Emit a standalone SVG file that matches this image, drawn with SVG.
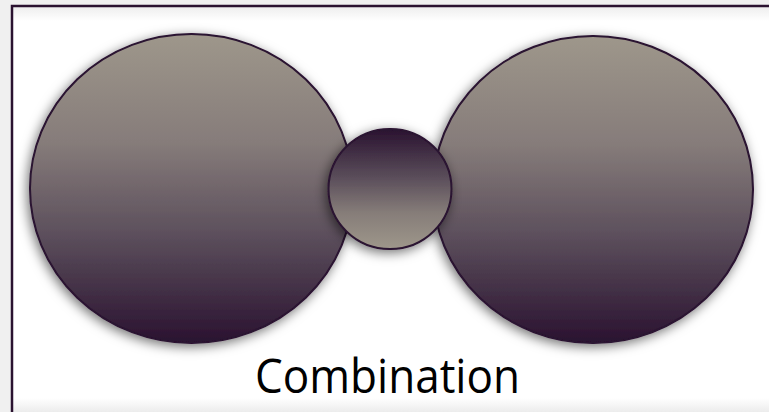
<svg xmlns="http://www.w3.org/2000/svg" width="769" height="412" viewBox="0 0 769 412">
<defs>
<linearGradient id="gBig" x1="0" y1="0" x2="0" y2="1">
<stop offset="0" stop-color="#9e978b"/>
<stop offset="0.35" stop-color="#867c7a"/>
<stop offset="0.65" stop-color="#5c4f5c"/>
<stop offset="1" stop-color="#2a1230"/>
</linearGradient>
<linearGradient id="gSmall" x1="0" y1="0" x2="0" y2="1">
<stop offset="0" stop-color="#2a1230"/>
<stop offset="0.4" stop-color="#5a4d5a"/>
<stop offset="0.7" stop-color="#867d79"/>
<stop offset="1" stop-color="#9e978b"/>
</linearGradient>
<linearGradient id="gBottom" x1="0" y1="0" x2="0" y2="1">
<stop offset="0" stop-color="#ffffff"/>
<stop offset="1" stop-color="#ececec"/>
</linearGradient>
<linearGradient id="gTop" x1="0" y1="0" x2="0" y2="1">
<stop offset="0" stop-color="#eeeeee"/>
<stop offset="1" stop-color="#ffffff"/>
</linearGradient>
<filter id="shadow" x="-20%" y="-20%" width="140%" height="140%">
<feDropShadow dx="-2" dy="3" stdDeviation="6" flood-color="#000000" flood-opacity="0.55"/>
</filter>
</defs>
<style>
.node { stroke: #2a1230; stroke-width: 2; }
.big { fill: url(#gBig); }
.small { fill: url(#gSmall); }
.label { font-family: "Open Sans", "Liberation Sans", sans-serif; font-size: 47px; fill: #000000; font-variant-ligatures: none; }
</style>
<rect x="0" y="0" width="769" height="412" fill="#f0f0f0"/>
<rect x="12" y="6" width="770" height="420" fill="#ffffff"/>
<rect x="13" y="7" width="770" height="14" fill="url(#gTop)"/>
<rect x="13" y="398" width="770" height="14" fill="url(#gBottom)"/>
<rect x="12" y="6" width="770" height="420" fill="none" stroke="#2a1230" stroke-width="2.5"/>
<g id="circle-left">
<ellipse class="node big" cx="191.5" cy="188.5" rx="161.5" ry="154.5" filter="url(#shadow)"/>
</g>
<g id="circle-right">
<ellipse class="node big" cx="593" cy="189.5" rx="160" ry="153.5" filter="url(#shadow)"/>
</g>
<g id="circle-center">
<ellipse class="node small" cx="390" cy="189" rx="61.5" ry="60" filter="url(#shadow)"/>
</g>
<g id="connectors"></g>
<g id="label">
<text class="label" x="255" y="393" textLength="265" lengthAdjust="spacingAndGlyphs">Combination</text>
</g>
</svg>
